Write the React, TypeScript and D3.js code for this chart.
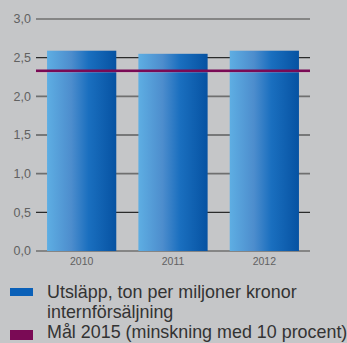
import React from "react";
import * as d3 from "d3";

const years = ["2010", "2011", "2012"];
const emissions = [2.59, 2.55, 2.59];
const target = 2.33;
const yTicks = [0, 0.5, 1.0, 1.5, 2.0, 2.5, 3.0];
const legendLines1 = ["Utsläpp, ton per miljoner kronor", "internförsäljning"];
const legendLine2 = "Mål 2015 (minskning med 10 procent)";

const W = 347;
const H = 343;
const left = 36;
const right = 310;
const top = 19;
const bottom = 251;

export default function App() {
  const x = d3.scaleBand<string>().domain(years).range([left, right]).paddingInner(0.242).paddingOuter(0.121);
  const y = d3.scaleLinear().domain([0, 3]).range([bottom, top]);
  const fmt = (v: number) => v.toFixed(1).replace(".", ",");
  const font = "'Liberation Sans', Arial, Helvetica, sans-serif";
  return (
    <svg width={W} height={H} style={{ position: "absolute", left: 0, top: 0 }} fontFamily={font}>
      <defs>
        <linearGradient id="barGrad" x1="0" x2="1" y1="0" y2="0">
          <stop offset="0%" stopColor="#5eaee3" />
          <stop offset="35%" stopColor="#4d8dcd" />
          <stop offset="60%" stopColor="#1a6fbf" />
          <stop offset="100%" stopColor="#0652a2" />
        </linearGradient>
      </defs>
      <rect x={0} y={0} width={W} height={H} fill="#c5c6c8" />
      {yTicks.map((t, i) => (
        <g key={t}>
          <line
            x1={left}
            x2={right}
            y1={y(t)}
            y2={y(t)}
            stroke={i % 2 === 0 ? "#6f6f6f" : "#2b2b2b"}
            strokeWidth={i % 2 === 0 ? 1.6 : 1.2}
          />
          <text x={31} y={y(t)} dy="0.35em" textAnchor="end" fontSize={12.5} fill="#616161">
            {fmt(t)}
          </text>
        </g>
      ))}
      {years.map((yr, i) => (
        <g key={yr}>
          <rect
            x={x(yr)}
            y={y(emissions[i])}
            width={x.bandwidth()}
            height={bottom - y(emissions[i])}
            fill="url(#barGrad)"
          />
          <text
            x={(x(yr) as number) + x.bandwidth() / 2}
            y={261}
            dy="0.35em"
            textAnchor="middle"
            fontSize={10.5}
            fill="#616161"
          >
            {yr}
          </text>
        </g>
      ))}
      <line x1={left} x2={right} y1={y(target) + 1} y2={y(target) + 1} stroke="#c98fae" strokeWidth={1} />
      <line x1={left} x2={right} y1={y(target)} y2={y(target)} stroke="#7a0a55" strokeWidth={2.5} />
      <rect x={10} y={288} width={23} height={8} fill="#0a60b8" />
      <text x={47} y={298} fontSize={17.9} fill="#333">
        {legendLines1[0]}
      </text>
      <text x={47} y={318} fontSize={17.9} fill="#333">
        {legendLines1[1]}
      </text>
      <rect x={10} y={330} width={23} height={10} fill="#7a0a55" />
      <text x={47} y={338} fontSize={17.9} fill="#333">
        {legendLine2}
      </text>
    </svg>
  );
}
